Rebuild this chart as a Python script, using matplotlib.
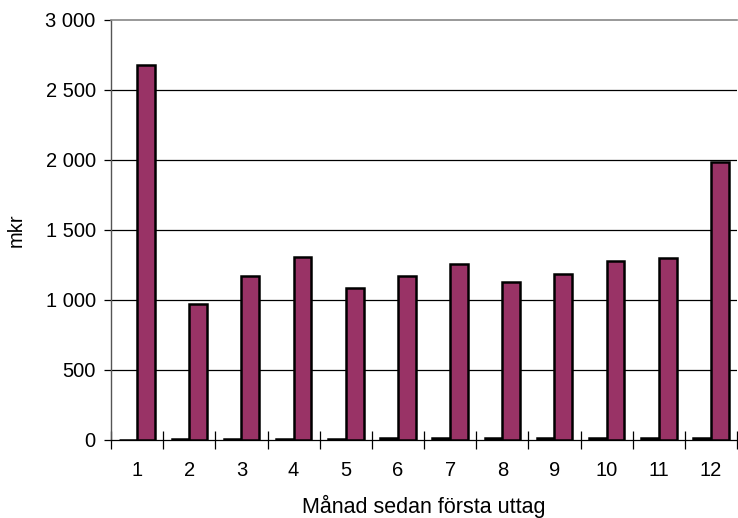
import numpy as np
import matplotlib.pyplot as plt
from matplotlib.ticker import FuncFormatter

plt.rcParams['font.family'] = ['Liberation Sans', 'DejaVu Sans']

# Månader och belopp (mkr)
manader = [str(m) for m in range(1, 13)]
liten_serie = [0, 8, 9, 10, 10, 11, 11, 12, 12, 13, 14, 14]
uttag = [2675, 971, 1168, 1307, 1089, 1170, 1255, 1128, 1185, 1275, 1298, 1985]

x = np.arange(len(manader))
w = 0.34

fig = plt.figure(figsize=(7.38, 5.18), dpi=100)
ax = fig.add_axes([0.1504, 0.1506, 0.8483, 0.8108])

ax.bar(x - w / 2, liten_serie, width=w, color='#993366', edgecolor='black', linewidth=1.8, zorder=3)
ax.bar(x + w / 2, uttag, width=w, color='#993366', edgecolor='black', linewidth=1.8, zorder=3)

ax.set_xlim(-0.5, len(manader) - 0.5)
ax.set_ylim(0, 3000)
ax.set_yticks(np.arange(0, 3001, 500))
ax.yaxis.set_major_formatter(FuncFormatter(lambda v, p: f"{int(v):,}".replace(',', ' ')))

# kategorinamn i mitten, streck på gränserna
ax.set_xticks(x)
ax.set_xticklabels(manader)
ax.set_xticks(np.arange(-0.5, len(manader), 1), minor=True)
ax.tick_params(axis='x', which='major', length=0, labelsize=14.5, pad=15)
ax.tick_params(axis='x', which='minor', direction='inout', length=13, width=0.9)
ax.tick_params(axis='y', length=5, width=0.9, labelsize=14.5, pad=6)

for v in range(500, 3000, 500):
    ax.axhline(v, color='black', linewidth=0.9, zorder=1)

ax.spines['top'].set_color('#888888')
ax.spines['top'].set_linewidth(1.2)
ax.spines['right'].set_visible(False)
ax.spines['left'].set_color('#555555')
ax.spines['left'].set_linewidth(1.0)
ax.spines['bottom'].set_color('black')
ax.spines['bottom'].set_linewidth(0.9)

ax.set_xlabel('Månad sedan första uttag', fontsize=15.5, labelpad=11)
ax.set_ylabel('mkr', fontsize=14.5, labelpad=14)

fig.savefig('out.png', dpi=100)
